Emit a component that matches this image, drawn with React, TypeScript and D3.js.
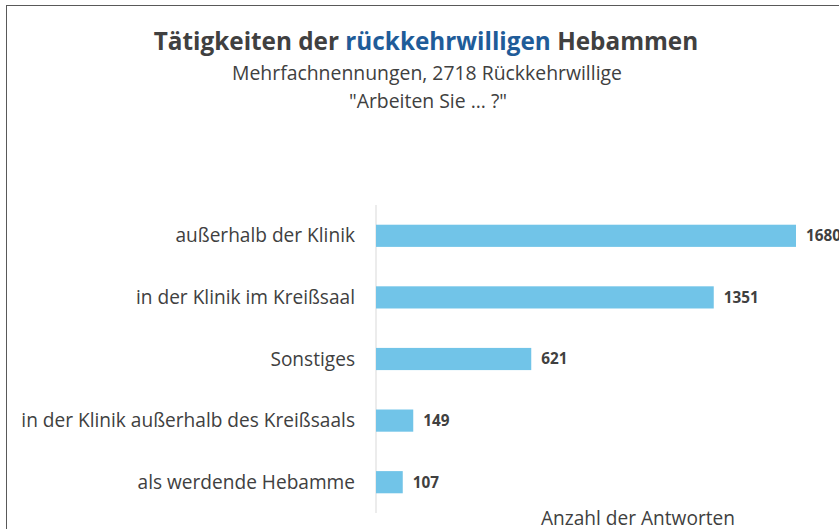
import React from "react";
import * as d3 from "d3";

const categories = [
  "außerhalb der Klinik",
  "in der Klinik im Kreißsaal",
  "Sonstiges",
  "in der Klinik außerhalb des Kreißsaals",
  "als werdende Hebamme",
];
const values = [1680, 1351, 621, 149, 107];

const W = 839;
const H = 529;
const FONT = "'Open Sans', sans-serif";
const TEXT = "#404040";

export default function App() {
  const x = d3.scaleLinear().domain([0, 1680]).range([376, 796]);
  const y = d3
    .scaleBand<string>()
    .domain(categories)
    .range([205, 513])
    .paddingInner(0.64)
    .paddingOuter(0.32);

  return (
    <svg
      width={W}
      height={H}
      style={{ position: "absolute", left: 0, top: 0, background: "#fff" }}
    >
      <rect x={6.5} y={5.5} width={W} height={H} fill="#fff" stroke="#595959" strokeWidth={1} />
      <text x={426} y={50} textAnchor="middle" fontFamily={FONT} fontWeight="bold" fontSize={24.3} fill={TEXT}>
        Tätigkeiten der <tspan fill="#1F5C99">rückkehrwilligen</tspan> Hebammen
      </text>
      <text x={427} y={80} textAnchor="middle" fontFamily={FONT} fontSize={19.4} fill={TEXT}>
        Mehrfachnennungen, 2718 Rückkehrwillige
      </text>
      <text x={428} y={108} textAnchor="middle" fontFamily={FONT} fontSize={19.4} fill={TEXT}>
        "Arbeiten Sie ... ?"
      </text>
      <line x1={376} x2={376} y1={205} y2={513} stroke="#d9d9d9" strokeWidth={1} />
      {categories.map((c, i) => {
        const yy = y(c)!;
        const bw = y.bandwidth();
        return (
          <g key={c}>
            <rect x={x(0)} y={yy} width={x(values[i]) - x(0)} height={bw} fill="#71C4E8" />
            <text x={355} y={yy + bw / 2} dy="0.35em" textAnchor="end" fontFamily={FONT} fontSize={19.1} fill={TEXT}>
              {c}
            </text>
            <text x={x(values[i]) + 10} y={yy + bw / 2} dy="0.35em" fontFamily={FONT} fontWeight="bold" fontSize={15.3} fill={TEXT}>
              {values[i]}
            </text>
          </g>
        );
      })}
      <text x={638} y={525} textAnchor="middle" fontFamily={FONT} fontSize={19.1} fill={TEXT}>
        Anzahl der Antworten
      </text>
    </svg>
  );
}
